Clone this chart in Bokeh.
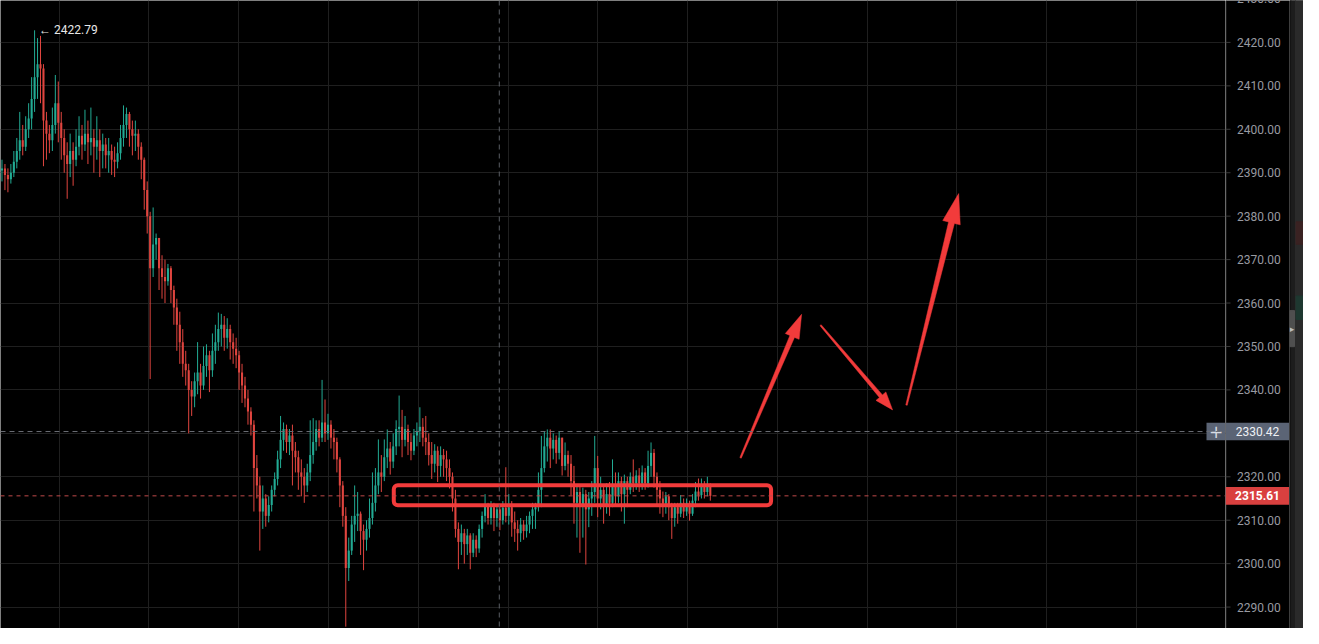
import math
from bokeh.plotting import figure
from bokeh.models import Range1d, FixedTicker, Span, Grid
from bokeh.layouts import row
from bokeh.embed import file_html
from bokeh.resources import INLINE
from bokeh.core.properties import value

# ---------------- data ----------------
first_open = 2390.5
close = [
    2391, 2389.5, 2388.5, 2390, 2392.5,
    2395, 2397.5, 2396, 2400, 2402.5,
    2407, 2412, 2415, 2414, 2402,
    2399, 2397.5, 2401, 2406, 2401.5,
    2398, 2394, 2392, 2395, 2393,
    2396, 2398.5, 2396.5, 2399, 2397,
    2398, 2396, 2397.5, 2395, 2396.5,
    2394, 2395, 2393, 2392.5, 2394.5,
    2398, 2401, 2403.5, 2400, 2398.5,
    2399, 2396, 2393, 2386, 2380,
    2368, 2373.5, 2375, 2368, 2366,
    2365, 2368, 2363, 2359, 2355,
    2351, 2346, 2344.5, 2340, 2338.5,
    2342, 2344, 2341, 2345.5, 2348,
    2344.5, 2349, 2351, 2354, 2355,
    2352, 2354, 2351, 2349.5, 2348,
    2344, 2341, 2338, 2335, 2332,
    2322, 2318, 2312, 2315, 2311,
    2313.5, 2317, 2319.5, 2324, 2328.5,
    2331, 2328, 2329.5, 2326, 2324.5,
    2321, 2320, 2318, 2321, 2325,
    2328, 2331, 2329, 2332.5, 2330,
    2332, 2329, 2328, 2324, 2318,
    2311, 2299, 2303, 2309, 2311,
    2311.5, 2307.5, 2305.5, 2308, 2310.5,
    2314, 2318, 2321, 2320, 2324.5,
    2326.5, 2323.5, 2327, 2331, 2331.5,
    2328.5, 2331, 2328, 2326, 2329.5,
    2330.5, 2331.5, 2329, 2328, 2325,
    2323, 2326, 2322.5, 2325, 2324,
    2322, 2320, 2315, 2308, 2305,
    2307, 2304.5, 2306.5, 2302.5, 2305.5,
    2303.5, 2308, 2311, 2313.5, 2310.5,
    2313, 2310.5, 2312.5, 2310, 2312.9,
    2311, 2313, 2309.5, 2308, 2307,
    2309, 2307.5, 2309, 2311, 2312.5,
    2313, 2317, 2322, 2327, 2329,
    2326.5, 2328.5, 2325.5, 2329, 2322.5,
    2325, 2323, 2319, 2314, 2316.5,
    2313.5, 2316, 2312.5, 2315, 2316.5,
    2322, 2315, 2317, 2313.5, 2316,
    2314, 2318, 2315.5, 2319, 2316,
    2319, 2317, 2320, 2318.5, 2320.3,
    2318.5, 2321, 2318.5, 2322.5, 2325.5,
    2320, 2317, 2315, 2313.8, 2315.5,
    2313, 2310.5, 2313, 2311.5, 2314,
    2312, 2314, 2311.5, 2314.5, 2316.6,
    2315.8, 2318, 2316.5, 2318.3, 2315.61,
]
high = [
    2393, 2392, 2391, 2392, 2395,
    2398, 2404, 2401, 2403, 2406,
    2412, 2422.79, 2421, 2421.5, 2415,
    2404, 2401, 2405, 2412.5, 2411,
    2404, 2400, 2397, 2399, 2397,
    2400, 2403, 2401, 2404.5, 2402,
    2405, 2400, 2403, 2400, 2399,
    2398, 2398, 2396.5, 2396, 2397,
    2401, 2405.5, 2405, 2404, 2402,
    2402, 2400, 2397, 2393.5, 2388,
    2381, 2382, 2376, 2374, 2371,
    2370, 2369, 2368.5, 2364, 2361,
    2358, 2354, 2349, 2346, 2342,
    2344, 2351, 2346, 2350, 2350.5,
    2349, 2353, 2355, 2357.8, 2357.5,
    2357, 2356.5, 2355, 2353, 2352,
    2349, 2346, 2343, 2340, 2336,
    2333, 2325, 2320, 2318, 2316,
    2315.5, 2318, 2321, 2326, 2334,
    2332.5, 2332, 2331, 2332, 2328,
    2326, 2324, 2322, 2323, 2333,
    2333.5, 2333, 2333, 2342.3, 2337.8,
    2334.5, 2333, 2331, 2329, 2324.5,
    2319, 2313, 2306, 2311, 2318,
    2316.5, 2312, 2309, 2310, 2315,
    2321, 2322, 2328.6, 2325, 2328.6,
    2330.9, 2328, 2330, 2333, 2338.7,
    2335.4, 2334, 2332, 2330, 2331,
    2332.5, 2336, 2333.5, 2334, 2330,
    2328, 2327.5, 2327, 2327, 2326.4,
    2326, 2324, 2321, 2317, 2309.5,
    2309, 2308, 2308, 2307, 2307,
    2306.5, 2309, 2312, 2316, 2314,
    2314.4, 2314, 2313.5, 2313, 2314.4,
    2322.2, 2316, 2314.4, 2312, 2310,
    2310.5, 2310, 2311, 2312, 2314,
    2314, 2321, 2329.4, 2330.5, 2330.9,
    2330.9, 2330, 2329.5, 2330.5, 2329,
    2327.9, 2326, 2325, 2322.5, 2318,
    2318, 2317.5, 2317, 2316.5, 2319,
    2329.4, 2324.8, 2320, 2318, 2318.5,
    2318.8, 2324, 2321, 2321, 2320,
    2320.5, 2320, 2321, 2324, 2321.5,
    2322, 2322.6, 2322, 2326, 2327.9,
    2326.4, 2321, 2319, 2316.6, 2316.5,
    2316, 2314, 2314, 2314, 2315.8,
    2315, 2315, 2314.5, 2316, 2318.8,
    2319.6, 2319.6, 2319, 2320, 2318.5,
]
low = [
    2388, 2386, 2385.5, 2387.5, 2389,
    2391, 2393, 2394, 2395, 2398,
    2400, 2404, 2407, 2406, 2391.5,
    2393, 2394.5, 2395, 2399, 2397,
    2393, 2390, 2384, 2389, 2387,
    2391.5, 2394, 2393, 2395, 2392,
    2394, 2390, 2393, 2389, 2391,
    2391, 2390, 2389.5, 2389, 2391,
    2393, 2396, 2398, 2396, 2394,
    2395, 2393, 2388.5, 2381.5, 2376,
    2342.5, 2366, 2370, 2363, 2361,
    2360, 2364, 2360, 2355, 2349,
    2346, 2343, 2341, 2330, 2334,
    2336, 2339, 2338, 2340, 2343,
    2339.5, 2343, 2346, 2349, 2350,
    2349, 2349.5, 2347, 2346, 2345,
    2340, 2337, 2336, 2332, 2329.5,
    2312, 2315, 2303, 2308, 2308.5,
    2309.5, 2312, 2315.5, 2318, 2322,
    2326, 2325.5, 2325, 2318, 2321,
    2317, 2315.5, 2314, 2316.5, 2319,
    2323, 2326, 2327, 2328, 2328,
    2328.5, 2326.5, 2324, 2321, 2313,
    2308.5, 2285.5, 2296, 2302, 2305,
    2307.5, 2302, 2298.5, 2303, 2306,
    2309, 2312, 2316, 2316.5, 2319,
    2322, 2320.5, 2322, 2325, 2327,
    2324.5, 2327, 2325, 2323.8, 2325,
    2327, 2328, 2327, 2325, 2322.6,
    2319.5, 2321, 2318.8, 2320, 2320,
    2319, 2317.3, 2312, 2306, 2298.7,
    2302, 2300, 2302, 2298.7, 2301.5,
    2301.5, 2302.5, 2306, 2309.5, 2309,
    2309, 2307.5, 2308.5, 2307.7, 2309,
    2309.5, 2309, 2306.2, 2305, 2303,
    2305, 2305.5, 2306, 2307, 2308,
    2308, 2312, 2313, 2321, 2323.5,
    2322, 2324, 2323, 2324, 2320.3,
    2321.5, 2320, 2315.8, 2309.2, 2306,
    2302.5, 2306, 2299.8, 2308.4, 2311,
    2314, 2310.7, 2312.5, 2309.2, 2311.5,
    2311, 2313, 2313.5, 2314, 2312,
    2309.2, 2313, 2316, 2316.5, 2317,
    2316.5, 2317, 2317, 2317.5, 2320,
    2317.5, 2313.5, 2311.5, 2310.7, 2311.5,
    2310, 2305.7, 2308.5, 2309.2, 2310.7,
    2310.5, 2311, 2309.9, 2311, 2313,
    2314.5, 2315, 2315, 2315.5, 2314.5,
]
price_ticks = [2290, 2300, 2310, 2320, 2330, 2340, 2350, 2360, 2370,
               2380, 2390, 2400, 2410, 2420, 2430]
time_grid = [19.3, 49.6, 79.9, 110.2, 140.5, 170.8, 201.1, 231.4,
             261.6, 291.9, 322.2, 352.5, 382.8]
crosshair_x = 167.8
crosshair_price = 2330.42
zone_x = [132.2, 259.5]
zone_price = [2313.47, 2318.07]
arrows = [
    ((249.2, 2324.35), (269.8, 2357.4)),
    ((276.2, 2354.9), (300.5, 2335.4)),
    ((305.2, 2336.5), (322.8, 2385.2)),
]

# ---------------- geometry ----------------
X0, X1 = -0.5, 412.83
Y0, Y1 = 2285.07, 2429.65
FRAME_W, FRAME_H = 1225, 628
AXIS_W = 64
STRIP_W = 14

n = len(close)
idx = list(range(n))
opens = [first_open] + close[:-1]
high = [max(h, o, c) for h, o, c in zip(high, opens, close)]
low = [min(l, o, c) for l, o, c in zip(low, opens, close)]

UP = "#22ab94"
DN = "#e0453f"
GRID = "#1f1f1f"
colors = [UP if c >= o else DN for o, c in zip(opens, close)]
tops = [max(o, c) for o, c in zip(opens, close)]
bots = [min(o, c) for o, c in zip(opens, close)]
bots = [b if t - b > 0.25 else t - 0.25 for t, b in zip(tops, bots)]

yr = Range1d(Y0, Y1)
p = figure(width=FRAME_W, height=FRAME_H, x_range=Range1d(X0, X1), y_range=yr,
           x_axis_location=None, y_axis_location=None, toolbar_location=None,
           output_backend="svg", min_border=0, background_fill_color="#000000",
           border_fill_color="#000000", outline_line_color=None)
for g in p.grid:
    g.visible = False
p.add_layout(Grid(dimension=0, ticker=FixedTicker(ticks=time_grid), grid_line_color=GRID))
p.add_layout(Grid(dimension=1, ticker=FixedTicker(ticks=price_ticks), grid_line_color=GRID))

# candles
p.segment(x0=idx, y0=low, x1=idx, y1=high, color=colors, line_width=1)
p.vbar(x=idx, width=0.7, top=tops, bottom=bots, fill_color=colors, line_color=None)

# crosshair and last-price line
p.add_layout(Span(location=crosshair_x, dimension="height", line_color="#5a5d64",
                  line_dash="5 4", line_width=1))
p.add_layout(Span(location=crosshair_price, dimension="width", line_color="#6a6d74",
                  line_dash="5 4", line_width=1))
p.add_layout(Span(location=close[-1], dimension="width", line_color="#c04a4a",
                  line_dash="4 4", line_width=1))

# peak label
pk = max(range(n), key=lambda i: high[i])
p.text(x=[pk + 1.5], y=[high[pk]], text=["\u2190 %.2f" % high[pk]], text_baseline="middle",
       text_align="left", text_font_size="12px", text_color="#e8e8e8",
       text_font=value("Roboto"))

# zone rectangle
p.quad(left=[zone_x[0]], right=[zone_x[1]], bottom=[zone_price[0]], top=[zone_price[1]],
       fill_alpha=0, line_color="#f23b3b", line_width=4, border_radius=4)

# arrows
sx = FRAME_W / (X1 - X0)
sy = FRAME_H / (Y1 - Y0)
arrow_style = [(1.5, 5, 24, 7.5), (1.5, 4, 18, 6.5), (1.5, 6, 30, 9)]
axs, ays = [], []
for (a, b), (w0, w1, hl, hw) in zip(arrows, arrow_style):
    ax_, ay_ = a[0] * sx, a[1] * sy
    bx_, by_ = b[0] * sx, b[1] * sy
    L = math.hypot(bx_ - ax_, by_ - ay_)
    ux, uy = (bx_ - ax_) / L, (by_ - ay_) / L
    nx, ny = -uy, ux
    cx, cy = bx_ - ux * hl, by_ - uy * hl
    pts = [(ax_ + nx * w0 / 2, ay_ + ny * w0 / 2), (cx + nx * w1 / 2, cy + ny * w1 / 2),
           (cx + nx * hw, cy + ny * hw), (bx_, by_), (cx - nx * hw, cy - ny * hw),
           (cx - nx * w1 / 2, cy - ny * w1 / 2), (ax_ - nx * w0 / 2, ay_ - ny * w0 / 2)]
    axs.append([q[0] / sx for q in pts])
    ays.append([q[1] / sy for q in pts])
p.patches(xs=axs, ys=ays, fill_color="#f23b3b", line_color="#f23b3b", line_width=0.5)

# crosshair "+" box inside frame
TAG_H = 8.8 / sy
plus_left = X1 - 19 / sx
p.quad(left=[plus_left], right=[X1 + 5], bottom=[crosshair_price - TAG_H],
       top=[crosshair_price + TAG_H], fill_color="#5b6475", line_color=None)
p.text(x=[(plus_left + X1) / 2], y=[crosshair_price], text=["+"], text_align="center",
       text_baseline="middle", text_font_size="17px", text_color="#d8dce4",
       text_font=value("DejaVu Sans"))

# ---------------- price scale ----------------
pa = figure(width=AXIS_W, height=FRAME_H, x_range=Range1d(0, AXIS_W), y_range=yr,
            x_axis_location=None, y_axis_location=None, toolbar_location=None,
            output_backend="svg", min_border=0, background_fill_color="#000000",
            border_fill_color="#000000", outline_line_color=None)
for g in pa.grid:
    g.visible = False
pa.segment(x0=[0.5], y0=[Y0], x1=[0.5], y1=[Y1], line_color="#2c2c2c", line_width=1)
pa.segment(x0=[0] * len(price_ticks), y0=price_ticks, x1=[5] * len(price_ticks),
           y1=price_ticks, line_color="#3a3a3a", line_width=1)
pa.text(x=[11.5] * len(price_ticks), y=price_ticks, text=["%.2f" % t for t in price_ticks],
        text_align="left", text_baseline="middle", text_font_size="12px",
        text_color="#989aa1", text_font=value("Roboto"))
tag_prices = [crosshair_price, close[-1]]
pa.quad(left=[0, 0], right=[AXIS_W, AXIS_W], bottom=[t - TAG_H for t in tag_prices],
        top=[t + TAG_H for t in tag_prices], fill_color=["#5b6475", "#d9403f"], line_color=None)
pa.text(x=[AXIS_W / 2], y=[crosshair_price], text=["%.2f" % crosshair_price],
        text_align="center", text_baseline="middle", text_font_size="12px",
        text_color="#eef0f4", text_font=value("Roboto"))
pa.text(x=[AXIS_W / 2], y=[close[-1]], text=["%.2f" % close[-1]],
        text_align="center", text_baseline="middle", text_font_size="12px",
        text_font_style="bold", text_color="#ffffff", text_font=value("Roboto"))

# ---------------- right side strip ----------------
strip = figure(width=STRIP_W, height=FRAME_H, x_range=Range1d(0, 14), y_range=Range1d(644, 0),
               toolbar_location=None, output_backend="svg", x_axis_location=None,
               y_axis_location=None, min_border=0, background_fill_color="#262626",
               border_fill_color="#262626", outline_line_color=None)
for g in strip.grid:
    g.visible = False
strip.quad(left=[0, 1.5, 6], right=[1.5, 6, 14], top=[0, 0, 0], bottom=[644, 644, 644],
           color=["#0c0c0c", "#1d1d1d", "#2a2a2a"])
strip.quad(left=[6.5, 6.5], right=[14, 14], top=[227, 303], bottom=[250, 327],
           color=["#3a2222", "#1e3830"])
strip.quad(left=[0], right=[5], top=[318], bottom=[355], color="#4f4f4f")
strip.text(x=[2.5], y=[337], text=["\u25b8"], text_align="center", text_baseline="middle",
           text_font_size="9px", text_color="#bbbbbb", text_font=value("DejaVu Sans"))

layout = row(p, pa, strip, spacing=0)
open("out.html", "w").write(file_html(layout, INLINE))
